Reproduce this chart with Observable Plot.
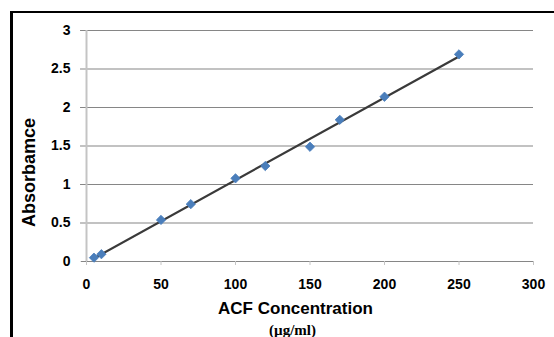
<!DOCTYPE html>
<html><head><meta charset="utf-8">
<script src="https://cdn.jsdelivr.net/npm/d3@7"></script>
<script src="https://cdn.jsdelivr.net/npm/@observablehq/plot@0.6"></script>
<style>
html,body{margin:0;padding:0;background:#fff;overflow:hidden;width:554px;height:337px;}
#frame{position:absolute;left:10px;top:11px;width:600px;height:400px;border-top:2px solid #000;border-left:3px solid #000;}
#chart{position:absolute;left:0;top:0;}
</style></head>
<body>
<div id="frame"></div>
<div id="chart"></div>
<script>
const concentration = [5, 10, 50, 70, 100, 120, 150, 170, 200, 250];
const absorbance = [0.05, 0.095, 0.54, 0.745, 1.08, 1.24, 1.49, 1.84, 2.14, 2.69];
const xTicks = [0, 50, 100, 150, 200, 250, 300];
const yTicks = [0, 0.5, 1, 1.5, 2, 2.5, 3];
const xTitle = "ACF Concentration";
const xUnit = "(\u00b5g/ml)";
const yTitle = "Absorbamce";

const data = concentration.map((c, i) => ({c, a: absorbance[i]}));
const font = "Liberation Sans, Arial, sans-serif";

const plot = Plot.plot({
  width: 554, height: 337,
  marginLeft: 86, marginRight: 21, marginTop: 30, marginBottom: 76,
  style: {fontFamily: font, fontSize: "14px", color: "#000", background: "transparent"},
  x: {type: "linear", domain: [0, 300], label: null},
  y: {type: "linear", domain: [0, 3], label: null},
  marks: [
    Plot.ruleY(yTicks.filter(d => d > 0), {x1: -4, x2: 300, stroke: "#868686", strokeWidth: 1.2}),
    Plot.ruleX([0], {y1: 0, y2: 3, stroke: "#c4c4c4", strokeWidth: 2}),
    Plot.ruleY([0], {x1: -3.5, x2: 300, stroke: "#868686", strokeWidth: 1.2}),
    Plot.axisX({ticks: xTicks, tickSize: 4, stroke: "#c4c4c4", tickPadding: 14, fill: "#000", fontSize: 14, fontWeight: "bold", tickFormat: d => String(d)}),
    Plot.axisY({ticks: yTicks, tickSize: 0, tickPadding: 16, fill: "#000", fontSize: 14, fontWeight: "bold", tickFormat: d => String(d)}),
    Plot.linearRegressionY(data, {x: "c", y: "a", ci: 0, stroke: "#3a3a3a", strokeWidth: 2.2}),
    Plot.dot(data, {x: "c", y: "a", symbol: "diamond2", r: 4.2, fill: "#4a7ebb", stroke: "#4a7ebb", strokeWidth: 0.8}),
    Plot.text([xTitle], {frameAnchor: "bottom", textAnchor: "middle", lineAnchor: "middle", dx: 295 - 309.5, dy: 308 - 261, fontSize: 17, fontWeight: "bold", fill: "#000"}),
    Plot.text([xUnit], {frameAnchor: "bottom", textAnchor: "middle", lineAnchor: "middle", dx: 292 - 309.5, dy: 330 - 261, fontSize: 15, fontWeight: "bold", fontFamily: "Liberation Serif, Times New Roman, serif", fill: "#000"}),
    Plot.text([yTitle], {frameAnchor: "left", textAnchor: "middle", lineAnchor: "middle", rotate: -90, dx: 29 - 86, dy: 172 - 145.5, fontSize: 18, fontWeight: "bold", fill: "#000"})
  ]
});
document.getElementById("chart").appendChild(plot);
</script>
</body></html>
